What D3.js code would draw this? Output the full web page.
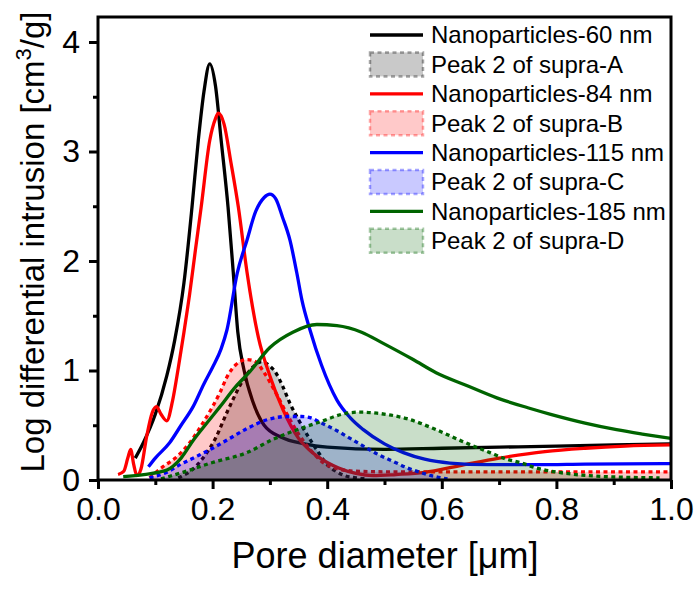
<!DOCTYPE html>
<html>
<head>
<meta charset="utf-8">
<script src="https://cdn.jsdelivr.net/npm/d3@7"></script>
<style>
  body { margin: 0; background: #fff; }
  svg text { font-family: "Liberation Sans", Arial, sans-serif; fill: #000; }
</style>
</head>
<body>
<svg id="chart" width="700" height="606"></svg>
<script>
// pore diameter [um] / log differential intrusion [cm3/g]
const np60 = [[0.065,0.2],[0.08,0.35],[0.1,0.6],[0.12,0.95],[0.134,1.28],[0.15,1.8],[0.164,2.49],[0.175,3.1],[0.185,3.55],[0.195,3.8],[0.205,3.6],[0.215,3.1],[0.227,2.49],[0.236,1.9],[0.244,1.35],[0.255,1.0],[0.27,0.72],[0.29,0.5],[0.32,0.39],[0.36,0.33],[0.4,0.3],[0.5,0.28],[0.6,0.29],[0.7,0.3],[0.8,0.31],[0.9,0.32],[1.0,0.33]];
const np84 = [[0.035,0.05],[0.045,0.08],[0.052,0.2],[0.057,0.28],[0.062,0.15],[0.068,0.04],[0.075,0.1],[0.085,0.4],[0.095,0.62],[0.102,0.67],[0.11,0.6],[0.12,0.54],[0.13,0.72],[0.14,1.02],[0.15,1.35],[0.16,1.7],[0.17,2.1],[0.18,2.49],[0.195,3.1],[0.205,3.3],[0.21,3.35],[0.22,3.25],[0.232,2.9],[0.245,2.49],[0.26,1.9],[0.28,1.3],[0.3,0.95],[0.323,0.64],[0.35,0.38],[0.37,0.27],[0.4,0.16],[0.42,0.11],[0.45,0.06],[0.48,0.04],[0.52,0.05],[0.57,0.07],[0.63,0.13],[0.7,0.2],[0.78,0.26],[0.85,0.29],[0.92,0.31],[1.0,0.32]];
const np115 = [[0.088,0.12],[0.1,0.2],[0.125,0.34],[0.145,0.5],[0.166,0.67],[0.185,0.88],[0.2,1.03],[0.215,1.2],[0.225,1.37],[0.243,1.89],[0.26,2.19],[0.275,2.45],[0.29,2.58],[0.3,2.61],[0.31,2.57],[0.322,2.4],[0.335,2.19],[0.347,1.89],[0.356,1.64],[0.37,1.37],[0.39,1.05],[0.417,0.73],[0.44,0.57],[0.463,0.46],[0.5,0.33],[0.533,0.25],[0.57,0.19],[0.614,0.155],[0.68,0.14],[0.766,0.14],[0.85,0.145],[1.0,0.15]];
const np185 = [[0.044,0.03],[0.08,0.05],[0.12,0.09],[0.145,0.2],[0.166,0.36],[0.19,0.52],[0.213,0.67],[0.24,0.85],[0.265,0.99],[0.3,1.21],[0.34,1.35],[0.382,1.42],[0.417,1.41],[0.46,1.35],[0.497,1.25],[0.55,1.1],[0.59,0.98],[0.64,0.87],[0.696,0.75],[0.75,0.66],[0.79,0.6],[0.85,0.52],[0.905,0.46],[0.95,0.42],[1.0,0.38]];
const peakA = [[0.14,0.02],[0.17,0.12],[0.19,0.25],[0.204,0.37],[0.227,0.64],[0.253,0.91],[0.27,1.03],[0.285,1.08],[0.3,1.04],[0.309,0.99],[0.322,0.86],[0.335,0.7],[0.35,0.55],[0.37,0.37],[0.385,0.25],[0.4,0.14],[0.415,0.08],[0.43,0.04],[0.45,0.02],[0.47,0.01]];
const peakB = [[0.09,0.02],[0.113,0.12],[0.135,0.2],[0.16,0.34],[0.183,0.52],[0.2,0.67],[0.213,0.8],[0.225,0.94],[0.24,1.05],[0.26,1.1],[0.275,1.08],[0.29,0.98],[0.31,0.8],[0.33,0.6],[0.35,0.42],[0.37,0.28],[0.39,0.17],[0.42,0.1],[0.45,0.08],[0.5,0.075],[0.6,0.075],[0.7,0.075],[0.8,0.075],[0.9,0.075],[1.0,0.075]];
const peakC = [[0.09,0.02],[0.12,0.07],[0.143,0.14],[0.17,0.21],[0.2,0.29],[0.23,0.38],[0.26,0.47],[0.295,0.55],[0.33,0.58],[0.355,0.58],[0.37,0.57],[0.39,0.52],[0.417,0.45],[0.44,0.38],[0.463,0.31],[0.49,0.23],[0.515,0.17],[0.54,0.11],[0.562,0.07],[0.59,0.03],[0.61,0.01]];
const peakD = [[0.11,0.01],[0.148,0.07],[0.2,0.16],[0.26,0.25],[0.305,0.37],[0.353,0.47],[0.387,0.53],[0.434,0.61],[0.457,0.62],[0.487,0.61],[0.539,0.56],[0.59,0.46],[0.637,0.35],[0.684,0.25],[0.713,0.19],[0.736,0.16],[0.765,0.11],[0.817,0.06],[0.87,0.035],[0.92,0.025],[0.98,0.02]];

const seriesNames = ["Nanoparticles-60 nm","Peak 2 of supra-A","Nanoparticles-84 nm","Peak 2 of supra-B","Nanoparticles-115 nm","Peak 2 of supra-C","Nanoparticles-185 nm","Peak 2 of supra-D"];
const seriesData = [np60, peakA, np84, peakB, np115, peakC, np185, peakD];
const seriesColors = ["#000000","#000000","#ff0000","#ff0000","#0000ff","#0000ff","#006400","#006400"];
const xTicks = [0, 0.2, 0.4, 0.6, 0.8, 1.0];
const yTicks = [0, 1, 2, 3, 4];

const svg = d3.select("#chart");
const pLeft = 98, pRight = 671, pTop = 17, pBottom = 480;

let xscale = d3.scaleLinear().domain([0, 1]).range([pLeft, pRight]);
let yscale = d3.scaleLinear().domain([0, 4]).range([pBottom, pBottom - 4 * 109.5]);

svg.append("clipPath").attr("id", "clip")
  .append("rect").attr("x", pLeft).attr("y", pTop).attr("width", pRight - pLeft).attr("height", pBottom - pTop);

const plot = svg.append("g").attr("clip-path", "url(#clip)");
const line = d3.line().x(d => xscale(d[0])).y(d => yscale(d[1])).curve(d3.curveMonotoneX);
const area = d3.area().x(d => xscale(d[0])).y0(yscale(0)).y1(d => yscale(d[1])).curve(d3.curveMonotoneX);

seriesData.forEach((data, i) => {
  const isPeak = i % 2 == 1;
  if (isPeak) {
    plot.append("path").attr("d", area(data))
      .attr("fill", seriesColors[i]).attr("fill-opacity", 0.21);
  }
  plot.append("path").attr("d", line(data))
    .attr("fill", "none")
    .attr("stroke", seriesColors[i])
    .attr("stroke-width", 3.3)
    .attr("stroke-dasharray", isPeak ? "4,3.5" : null);
});

// frame
svg.append("rect").attr("x", pLeft).attr("y", pTop).attr("width", pRight - pLeft).attr("height", pBottom - pTop)
  .attr("fill", "none").attr("stroke", "#000").attr("stroke-width", 3);

// axes
const xAxis = d3.axisBottom(xscale).tickValues(xTicks).tickFormat(d3.format(".1f")).tickSize(9).tickPadding(8);
const xMinor = d3.axisBottom(xscale).tickValues([0.1, 0.3, 0.5, 0.7, 0.9]).tickFormat("").tickSize(5);
const yAxis = d3.axisLeft(yscale).tickValues(yTicks).tickFormat(d3.format("d")).tickSize(9).tickPadding(9);
const yMinor = d3.axisLeft(yscale).tickValues([0.5, 1.5, 2.5, 3.5]).tickFormat("").tickSize(5);

[[xAxis, "x"], [xMinor, "x"], [yAxis, "y"], [yMinor, "y"]].forEach(([ax, k]) => {
  const g = svg.append("g")
    .attr("transform", k == "x" ? `translate(0,${pBottom})` : `translate(${pLeft},0)`)
    .call(ax);
  g.select(".domain").remove();
  g.selectAll(".tick line").attr("stroke", "#000").attr("stroke-width", 3);
  g.selectAll(".tick text").attr("font-size", 32).attr("font-family", "Liberation Sans, Arial, sans-serif");
});

svg.append("text").attr("x", 385).attr("y", 568).attr("text-anchor", "middle")
  .attr("font-size", 36).text("Pore diameter [\u03bcm]");

const yt = svg.append("text").attr("transform", "translate(44,242) rotate(-90)")
  .attr("text-anchor", "middle").attr("font-size", 33);
yt.append("tspan").text("Log differential intrusion [cm");
yt.append("tspan").attr("font-size", 22).attr("dy", -13).text("3");
yt.append("tspan").attr("dy", 13).text("/g]");

// legend
const legend = svg.append("g");
seriesNames.forEach((name, i) => {
  const cy = 35 + i * 29.4;
  const isPeak = i % 2 == 1;
  if (isPeak) {
    legend.append("rect").attr("x", 370).attr("y", cy - 12).attr("width", 53).attr("height", 24)
      .attr("fill", seriesColors[i]).attr("fill-opacity", 0.21)
      .attr("stroke", seriesColors[i]).attr("stroke-opacity", 0.35)
      .attr("stroke-width", 2.5).attr("stroke-dasharray", "4,3.5");
  } else {
    legend.append("line").attr("x1", 370).attr("x2", 423).attr("y1", cy).attr("y2", cy)
      .attr("stroke", seriesColors[i]).attr("stroke-width", 3.3);
  }
  legend.append("text").attr("x", 431).attr("y", cy).attr("dy", "0.35em")
    .attr("font-size", 24).text(name);
});
</script>
</body>
</html>
